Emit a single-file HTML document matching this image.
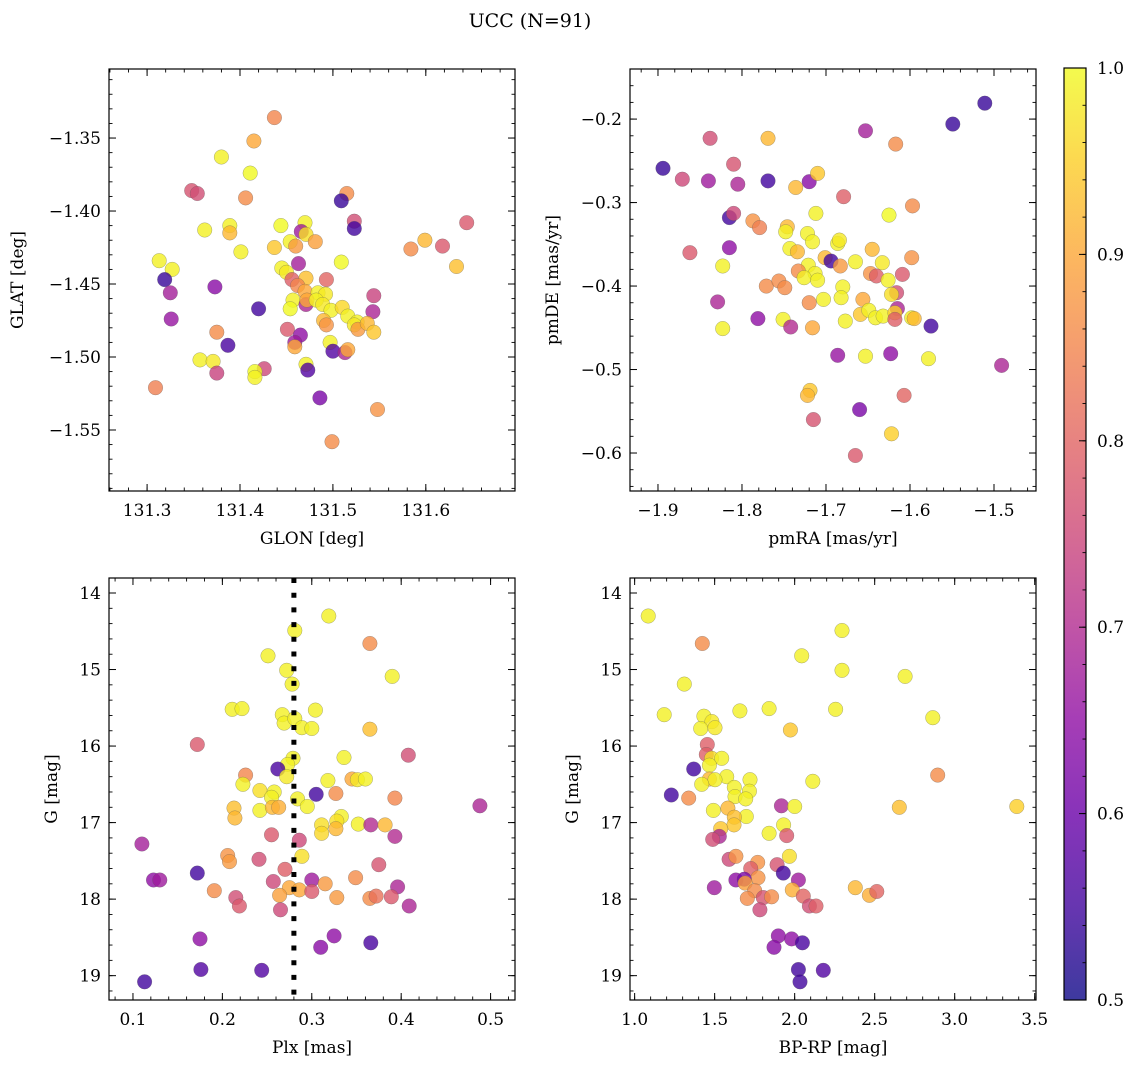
<!DOCTYPE html>
<html><head><meta charset="utf-8"><style>
html,body{margin:0;padding:0;background:#fff;}
svg{display:block;font-family:"DejaVu Serif","Liberation Serif",serif;}
</style></head><body>
<svg id="fig" width="1136" height="1068" viewBox="0 0 1136 1068" xmlns="http://www.w3.org/2000/svg">
<text x="530" y="27" font-size="19" text-anchor="middle">UCC (N=91)</text>
</svg>
<script>
// ---- Panel 1: GLON / GLAT ----
const p1Glon=[131.437,131.415,131.380,131.411,131.348,131.354,131.406,131.515,131.509,131.523,131.523,131.644,131.362,131.389,131.389,131.444,131.470,131.466,131.471,131.481,131.454,131.460,131.437,131.401,131.584,131.599,131.618,131.633,131.313,131.327,131.319,131.325,131.326,131.373,131.509,131.445,131.450,131.463,131.456,131.471,131.493,131.462,131.470,131.484,131.492,131.457,131.471,131.472,131.482,131.489,131.498,131.510,131.544,131.543,131.454,131.420,131.516,131.490,131.493,131.526,131.523,131.527,131.537,131.544,131.451,131.375,131.465,131.459,131.459,131.387,131.497,131.500,131.513,131.516,131.357,131.371,131.375,131.426,131.416,131.416,131.471,131.473,131.309,131.486,131.548,131.499];
const p1Glat=[-1.336,-1.352,-1.363,-1.374,-1.386,-1.388,-1.391,-1.388,-1.393,-1.407,-1.412,-1.408,-1.413,-1.410,-1.415,-1.410,-1.408,-1.414,-1.416,-1.421,-1.421,-1.424,-1.425,-1.428,-1.426,-1.420,-1.424,-1.438,-1.434,-1.440,-1.447,-1.456,-1.474,-1.452,-1.435,-1.439,-1.442,-1.436,-1.447,-1.446,-1.447,-1.451,-1.455,-1.456,-1.457,-1.461,-1.464,-1.461,-1.461,-1.464,-1.468,-1.466,-1.458,-1.469,-1.467,-1.467,-1.472,-1.475,-1.478,-1.476,-1.478,-1.481,-1.477,-1.483,-1.481,-1.483,-1.485,-1.490,-1.493,-1.492,-1.490,-1.496,-1.497,-1.495,-1.502,-1.503,-1.511,-1.508,-1.510,-1.514,-1.505,-1.509,-1.521,-1.528,-1.536,-1.558];
const p1Prob=[.83,.88,.97,.98,.75,.74,.84,.84,.52,.74,.53,.76,.97,.97,.9,.98,.97,.65,.95,.87,.97,.86,.92,.97,.84,.9,.76,.91,.97,.97,.52,.66,.64,.62,.98,.97,.96,.66,.77,.91,.78,.83,.88,.97,.96,.97,.67,.88,.97,.96,.97,.94,.72,.67,.98,.53,.97,.9,.85,.97,.96,.86,.9,.92,.76,.84,.63,.65,.88,.54,.97,.55,.67,.88,.97,.96,.72,.73,.98,.97,.97,.55,.82,.6,.85,.84];
const p1XTicks=[131.3,131.4,131.5,131.6];
const p1YTicks=[-1.35,-1.40,-1.45,-1.50,-1.55];

// ---- Panel 2: pmRA / pmDE ----
const p2Pmra=[-1.511,-1.549,-1.653,-1.617,-1.838,-1.769,-1.894,-1.871,-1.840,-1.810,-1.805,-1.769,-1.720,-1.710,-1.736,-1.679,-1.597,-1.815,-1.810,-1.712,-1.625,-1.787,-1.779,-1.746,-1.748,-1.722,-1.716,-1.686,-1.684,-1.862,-1.815,-1.743,-1.734,-1.645,-1.598,-1.823,-1.701,-1.694,-1.683,-1.665,-1.633,-1.721,-1.733,-1.713,-1.726,-1.710,-1.647,-1.640,-1.609,-1.626,-1.771,-1.756,-1.749,-1.680,-1.616,-1.622,-1.703,-1.682,-1.656,-1.720,-1.829,-1.615,-1.659,-1.649,-1.641,-1.632,-1.618,-1.618,-1.598,-1.595,-1.781,-1.751,-1.742,-1.716,-1.823,-1.677,-1.575,-1.686,-1.653,-1.623,-1.578,-1.491,-1.719,-1.722,-1.607,-1.660,-1.715,-1.622,-1.665];
const p2Pmde=[-0.181,-0.206,-0.214,-0.230,-0.223,-0.223,-0.259,-0.272,-0.274,-0.254,-0.278,-0.274,-0.275,-0.265,-0.282,-0.293,-0.304,-0.318,-0.313,-0.313,-0.315,-0.322,-0.330,-0.329,-0.335,-0.337,-0.347,-0.349,-0.345,-0.360,-0.354,-0.355,-0.359,-0.356,-0.366,-0.376,-0.366,-0.370,-0.376,-0.371,-0.372,-0.375,-0.382,-0.385,-0.390,-0.393,-0.385,-0.388,-0.386,-0.393,-0.400,-0.394,-0.402,-0.401,-0.408,-0.410,-0.416,-0.414,-0.416,-0.420,-0.419,-0.427,-0.434,-0.429,-0.438,-0.436,-0.432,-0.440,-0.438,-0.439,-0.439,-0.440,-0.449,-0.450,-0.451,-0.442,-0.448,-0.483,-0.484,-0.481,-0.487,-0.495,-0.525,-0.531,-0.531,-0.548,-0.560,-0.577,-0.603];
const p2Prob=[.52,.52,.66,.84,.74,.9,.52,.73,.65,.75,.67,.53,.62,.92,.9,.77,.84,.53,.73,.97,.98,.85,.82,.9,.97,.97,.97,.97,.96,.76,.63,.97,.9,.9,.85,.97,.9,.53,.86,.97,.96,.97,.84,.97,.97,.97,.85,.77,.76,.97,.84,.84,.84,.97,.74,.95,.97,.97,.88,.84,.67,.67,.92,.97,.97,.97,.93,.77,.97,.9,.63,.97,.68,.88,.97,.97,.53,.64,.97,.63,.97,.67,.92,.9,.78,.6,.75,.93,.76];
const p2XTicks=[-1.9,-1.8,-1.7,-1.6,-1.5];
const p2YTicks=[-0.2,-0.3,-0.4,-0.5,-0.6];

// ---- Panel 3: Plx / G ----
const p3Plx=[0.319,0.281,0.365,0.251,0.272,0.390,0.278,0.211,0.222,0.267,0.269,0.281,0.304,0.289,0.300,0.365,0.172,0.408,0.336,0.279,0.273,0.262,0.272,0.226,0.223,0.318,0.345,0.351,0.360,0.242,0.258,0.255,0.284,0.305,0.327,0.393,0.488,0.213,0.214,0.242,0.256,0.263,0.295,0.333,0.328,0.327,0.311,0.311,0.352,0.366,0.382,0.393,0.110,0.255,0.286,0.289,0.206,0.208,0.241,0.270,0.375,0.172,0.123,0.130,0.257,0.275,0.286,0.300,0.300,0.315,0.349,0.396,0.191,0.215,0.219,0.264,0.265,0.328,0.365,0.372,0.389,0.409,0.175,0.325,0.310,0.366,0.176,0.244,0.113];
const p3G=[14.30,14.49,14.66,14.82,15.01,15.09,15.19,15.52,15.51,15.59,15.70,15.64,15.53,15.76,15.77,15.78,15.98,16.12,16.15,16.16,16.24,16.30,16.40,16.38,16.50,16.45,16.43,16.44,16.43,16.58,16.60,16.67,16.69,16.63,16.62,16.68,16.78,16.81,16.94,16.84,16.80,16.80,16.79,16.92,16.98,17.08,17.03,17.14,17.02,17.03,17.03,17.18,17.28,17.16,17.23,17.44,17.43,17.51,17.48,17.61,17.55,17.66,17.75,17.75,17.77,17.85,17.88,17.75,17.90,17.80,17.72,17.84,17.89,17.98,18.09,17.95,18.14,17.98,17.99,17.96,17.97,18.09,18.52,18.48,18.63,18.57,18.92,18.93,19.08];
const p3Prob=[.97,.97,.84,.97,.97,.97,.97,.97,.97,.97,.97,.97,.97,.97,.97,.91,.76,.74,.97,.97,.97,.54,.96,.83,.97,.97,.88,.96,.97,.95,.97,.97,.97,.53,.84,.83,.67,.91,.9,.97,.9,.89,.97,.97,.95,.9,.95,.94,.97,.68,.9,.68,.66,.76,.73,.95,.85,.86,.74,.77,.75,.53,.63,.65,.73,.88,.88,.65,.76,.86,.84,.67,.84,.74,.76,.87,.73,.86,.84,.8,.76,.67,.63,.63,.62,.54,.55,.55,.53];
const p3XTicks=[0.1,0.2,0.3,0.4,0.5];
const p3YTicks=[14,15,16,17,18,19];
const plxMean=[0.28];

// ---- Panel 4: BP-RP / G ----
const p4Bprp=[1.085,1.423,2.296,2.044,2.296,2.690,1.310,1.185,1.658,1.840,2.256,2.863,1.433,1.483,1.413,1.502,1.973,1.454,1.448,1.481,1.544,1.467,1.369,1.575,1.467,1.502,1.419,1.721,2.113,2.894,1.229,1.338,1.623,1.627,1.717,1.694,1.917,2.000,2.654,3.388,1.492,1.583,1.698,1.623,1.621,1.538,1.931,1.840,1.950,1.529,1.488,1.967,1.590,1.633,1.769,1.725,1.890,1.929,1.771,2.023,1.633,1.685,1.690,1.498,1.985,1.750,1.704,1.804,1.856,2.054,2.092,2.133,1.783,2.379,2.467,2.513,1.898,1.981,1.871,2.048,2.023,2.179,2.033];
const p4G=[14.30,14.66,14.49,14.82,15.01,15.09,15.19,15.59,15.54,15.51,15.52,15.63,15.61,15.68,15.77,15.76,15.79,15.98,16.11,16.16,16.16,16.25,16.30,16.40,16.43,16.44,16.50,16.44,16.46,16.38,16.64,16.68,16.54,16.66,16.59,16.69,16.78,16.79,16.80,16.79,16.84,16.81,16.92,16.93,17.03,17.08,17.03,17.14,17.17,17.18,17.22,17.44,17.48,17.44,17.52,17.60,17.55,17.66,17.72,17.75,17.75,17.74,17.79,17.85,17.88,17.89,17.99,17.98,17.97,17.96,18.09,18.09,18.14,17.85,17.95,17.90,18.48,18.52,18.63,18.57,18.92,18.93,19.08];
const p4Prob=[.97,.84,.97,.97,.97,.97,.97,.97,.97,.97,.97,.97,.97,.96,.97,.96,.92,.77,.77,.95,.97,.97,.53,.97,.9,.97,.97,.97,.97,.84,.53,.84,.97,.97,.97,.97,.67,.97,.91,.93,.97,.9,.97,.91,.92,.92,.97,.97,.76,.67,.74,.95,.73,.85,.85,.77,.75,.53,.85,.65,.63,.6,.87,.65,.89,.84,.84,.75,.84,.78,.74,.77,.73,.9,.89,.78,.63,.63,.62,.54,.53,.55,.53];
const p4XTicks=[1.0,1.5,2.0,2.5,3.0,3.5];
const p4YTicks=[14,15,16,17,18,19];

const cbTicks=[0.5,0.6,0.7,0.8,0.9,1.0];

const NS="http://www.w3.org/2000/svg";
const svg=document.getElementById('fig');
function mk(tag,attrs,parent){const e=document.createElementNS(NS,tag);for(const k in attrs)e.setAttribute(k,attrs[k]);(parent||svg).appendChild(e);return e;}
const stops=['#0d0887','#41049d','#6a00a8','#8f0da4','#b12a90','#cc4778','#e16462','#f2844b','#fca636','#fcce25','#f0f921'];
function hex(h){return [parseInt(h.substr(1,2),16),parseInt(h.substr(3,2),16),parseInt(h.substr(5,2),16)];}
function plasma(t){t=Math.max(0,Math.min(1,t));const f=t*10,i=Math.min(9,Math.floor(f)),r=f-i;const a=hex(stops[i]),b=hex(stops[i+1]);return 'rgb('+a.map((v,k)=>Math.round(v+(b[k]-v)*r)).join(',')+')';}
function pc(p){return plasma((p-0.5)/0.5+0.04);}

function panel(o){
  const {x0,y0,w,h,xmin,xmax,ymin,ymax,yInv,xt,yt,xminor,yminor,xlab,ylab,xs,ys,ps,name,dec}=o;
  const sx=v=>x0+(v-xmin)/(xmax-xmin)*w;
  const sy=v=>yInv? y0+(v-ymin)/(ymax-ymin)*h : y0+h-(v-ymin)/(ymax-ymin)*h;
  const g=mk('g',{});
  
  
  const clip=mk('clipPath',{id:name+'-clip'},g);mk('rect',{x:x0,y:y0,width:w,height:h},clip);
  const pts=mk('g',{'clip-path':'url(#'+name+'-clip)'},g);
  
  
  for(let i=0;i<xs.length;i++){
    const c=mk('circle',{cx:sx(xs[i]).toFixed(1),cy:sy(ys[i]).toFixed(1),r:7.3,fill:pc(ps[i]),'fill-opacity':0.8,stroke:'#555','stroke-opacity':0.5,'stroke-width':0.5},pts);
    
    
  }
  if(o.vline){const vl=mk('line',{x1:sx(o.vline[0]),x2:sx(o.vline[0]),y1:y0,y2:y0+h,stroke:'#000','stroke-width':5,'stroke-dasharray':'5 9.7'},pts);
    }
  const fr=mk('rect',{x:x0,y:y0,width:w,height:h,fill:'none',stroke:'#000','stroke-width':1.2},g);
  
  const eps=1e-9;
  let start=Math.ceil(xmin/xminor-eps);
  for(let k=start;k*xminor<=xmax+eps;k++){const X=sx(k*xminor);mk('line',{x1:X,x2:X,y1:y0+h,y2:y0+h-3.5,stroke:'#000','stroke-width':0.9},g);mk('line',{x1:X,x2:X,y1:y0,y2:y0+3.5,stroke:'#000','stroke-width':0.9},g);}
  start=Math.ceil(Math.min(ymin,ymax)/yminor-eps);
  for(let k=start;k*yminor<=Math.max(ymin,ymax)+eps;k++){const Y=sy(k*yminor);mk('line',{x1:x0,x2:x0+3.5,y1:Y,y2:Y,stroke:'#000','stroke-width':0.9},g);mk('line',{x1:x0+w,x2:x0+w-3.5,y1:Y,y2:Y,stroke:'#000','stroke-width':0.9},g);}
  xt.forEach(v=>{const X=sx(v);mk('line',{x1:X,x2:X,y1:y0+h,y2:y0+h-7,stroke:'#000','stroke-width':1},g);mk('line',{x1:X,x2:X,y1:y0,y2:y0+7,stroke:'#000','stroke-width':1},g);
    const t=mk('text',{x:X,y:y0+h+25,'font-size':17,'text-anchor':'middle'},g);t.textContent=v.toFixed(dec[0]).replace('-','\u2212');
    });
  yt.forEach(v=>{const Y=sy(v);mk('line',{x1:x0,x2:x0+7,y1:Y,y2:Y,stroke:'#000','stroke-width':1},g);mk('line',{x1:x0+w,x2:x0+w-7,y1:Y,y2:Y,stroke:'#000','stroke-width':1},g);
    const t=mk('text',{x:x0-8,y:Y+6,'font-size':17,'text-anchor':'end'},g);t.textContent=v.toFixed(dec[1]).replace('-','\u2212');
    });
  const xl=mk('text',{x:x0+w/2,y:y0+h+53,'font-size':17,'text-anchor':'middle'},g);xl.textContent=xlab;
  
  const yl=mk('text',{x:0,y:0,'font-size':17,'text-anchor':'middle',transform:'translate('+(o.ylx)+','+(y0+h/2)+') rotate(-90)'},g);yl.textContent=ylab;
  
}

panel({name:'glon-glat',x0:109,y0:69,w:406,h:422,xmin:131.259,xmax:131.696,ymin:-1.5918,ymax:-1.3027,yInv:false,xt:p1XTicks,yt:p1YTicks,xminor:0.02,yminor:0.01,xlab:'GLON [deg]',ylab:'GLAT [deg]',xs:p1Glon,ys:p1Glat,ps:p1Prob,dec:[1,2],ylx:23});
panel({name:'pm',x0:630,y0:69,w:406,h:422,xmin:-1.9333,xmax:-1.45,ymin:-0.6455,ymax:-0.140,yInv:false,xt:p2XTicks,yt:p2YTicks,xminor:0.02,yminor:0.02,xlab:'pmRA [mas/yr]',ylab:'pmDE [mas/yr]',xs:p2Pmra,ys:p2Pmde,ps:p2Prob,dec:[1,1],ylx:558});
panel({name:'plx-g',x0:109,y0:578,w:406,h:422,xmin:0.0732,xmax:0.5273,ymin:13.804,ymax:19.318,yInv:true,xt:p3XTicks,yt:p3YTicks,xminor:0.02,yminor:0.2,xlab:'Plx [mas]',ylab:'G [mag]',xs:p3Plx,ys:p3G,ps:p3Prob,dec:[1,0],ylx:57,vline:plxMean});
panel({name:'cmd',x0:630,y0:578,w:406,h:422,xmin:0.971,xmax:3.508,ymin:13.804,ymax:19.318,yInv:true,xt:p4XTicks,yt:p4YTicks,xminor:0.1,yminor:0.2,xlab:'BP-RP [mag]',ylab:'G [mag]',xs:p4Bprp,ys:p4G,ps:p4Prob,dec:[1,0],ylx:578});

(function(){
  const cx=1064,cy=68,cw=22,ch=932;
  const g=mk('g',{});
  
  
  const defs=mk('defs',{},g);
  const lg=mk('linearGradient',{id:'cbgrad',x1:0,y1:1,x2:0,y2:0},defs);
  for(let i=0;i<=20;i++){mk('stop',{offset:(i/20),'stop-color':plasma(i/20),'stop-opacity':0.8},lg);}
  mk('rect',{x:cx,y:cy,width:cw,height:ch,fill:'url(#cbgrad)'},g);
  mk('rect',{x:cx,y:cy,width:cw,height:ch,fill:'none',stroke:'#000','stroke-width':1.2},g);
  const sy=v=>cy+ch-(v-0.5)/0.5*ch;
  for(let k=25;k<=50;k++){const Y=sy(k*0.02);mk('line',{x1:cx+cw,x2:cx+cw-3.5,y1:Y,y2:Y,stroke:'#000','stroke-width':0.9},g);}
  cbTicks.forEach(v=>{const Y=sy(v);mk('line',{x1:cx+cw,x2:cx+cw-7,y1:Y,y2:Y,stroke:'#000','stroke-width':1},g);
    const t=mk('text',{x:cx+cw+11,y:Y+6,'font-size':17},g);t.textContent=v.toFixed(1);
    });
})();
</script>
</body></html>
